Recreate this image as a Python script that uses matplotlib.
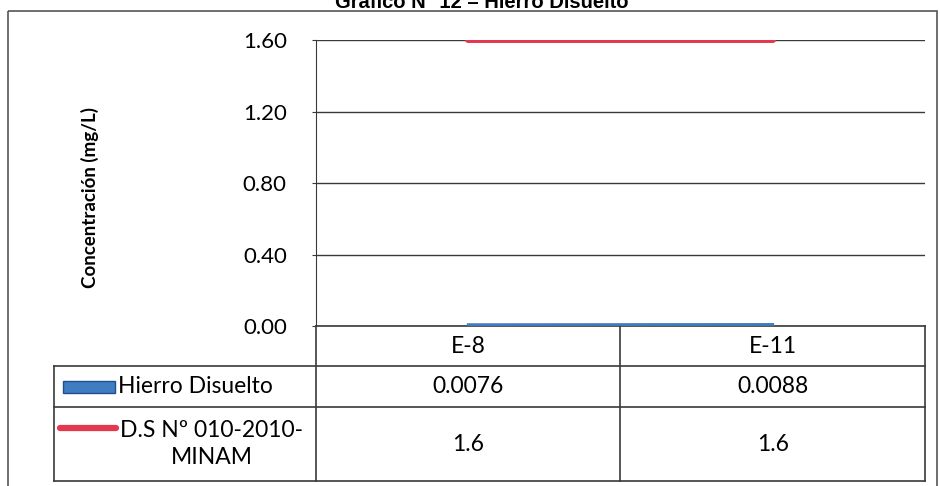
import matplotlib.pyplot as plt
from matplotlib.patches import Rectangle
from matplotlib.transforms import blended_transform_factory

# estaciones de muestreo y resultados
estaciones = ['E-8', 'E-11']
hierro = [0.0076, 0.0088]
norma = [1.6, 1.6]
serie_hierro = 'Hierro Disuelto'
serie_norma = 'D.S Nº 010-2010-\nMINAM'
yticks = [0.0, 0.4, 0.8, 1.2, 1.6]

azul = '#3f7cc2'
rojo = '#e3384f'
linea = '#3a3a3a'

plt.rcParams['font.family'] = ['Lato', 'DejaVu Sans']

fig = plt.figure(figsize=(9.4, 4.86), dpi=100)

# capa de fondo en pixeles para marco, titulo y tabla
base = fig.add_axes([0, 0, 1, 1])
base.set_xlim(0, 940)
base.set_ylim(486, 0)
base.axis('off')

base.add_patch(Rectangle((8, 11), 929, 490, fill=False, edgecolor='#555555', lw=1.2))
base.text(482, 7.5, 'Gráfico N° 12 – Hierro Disuelto', ha='center', va='baseline',
          fontsize=14.5, fontweight='bold', family='Liberation Sans')

# grafico principal
ax = fig.add_axes([316 / 940, 1 - 326 / 486, (925 - 316) / 940, (326 - 40) / 486])
ax.set_facecolor('none')
x = range(len(estaciones))
ax.plot(x, norma, color=rojo, lw=4.3, solid_capstyle='round', zorder=3)
ax.plot(x, hierro, color=azul, lw=2, zorder=3)
ax.set_xlim(-0.5, len(estaciones) - 0.5)
ax.set_ylim(0, 1.6)
ax.set_yticks(yticks)
ax.set_yticklabels([f'{v:.2f}' for v in yticks], fontsize=16)
ax.set_xticks([])
ax.yaxis.grid(True, color=linea, lw=1)
ax.set_axisbelow(True)
for s in ['top', 'right', 'bottom']:
    ax.spines[s].set_visible(False)
ax.spines['left'].set_color(linea)
ax.tick_params(axis='y', length=3, color=linea, pad=18)

base.text(90, 197, 'Concentración (mg/L)', rotation=90, ha='center', va='center',
          fontsize=13.5, fontweight='bold')

# tabla de datos bajo el eje
tr = blended_transform_factory(ax.transData, base.transData)
for y in [326, 366, 407, 481]:
    x0 = 316 if y == 326 else 54
    base.plot([x0, 925], [y, y], color=linea, lw=1.2)
base.plot([54, 54], [366, 481], color=linea, lw=1.2)
for xb in [316, 620, 925]:
    base.plot([xb, xb], [326, 481], color=linea, lw=1.2)

for i, est in enumerate(estaciones):
    base.text(i, 346, est, transform=tr, ha='center', va='center', fontsize=16.5)
    base.text(i, 386, f'{hierro[i]:g}', transform=tr, ha='center', va='center', fontsize=16.5)
    base.text(i, 444, f'{norma[i]:g}', transform=tr, ha='center', va='center', fontsize=16.5)

base.add_patch(Rectangle((63, 381), 52, 12, facecolor=azul, edgecolor='#1f4f8c', lw=1))
base.text(118, 386, serie_hierro, ha='left', va='center', fontsize=16.5)
base.plot([60, 116], [428, 428], color=rojo, lw=4.5, solid_capstyle='round')
base.text(212, 444, serie_norma, ha='center', va='center', fontsize=16.5,
          multialignment='center', linespacing=1.3)

fig.savefig('out.png', dpi=100)
